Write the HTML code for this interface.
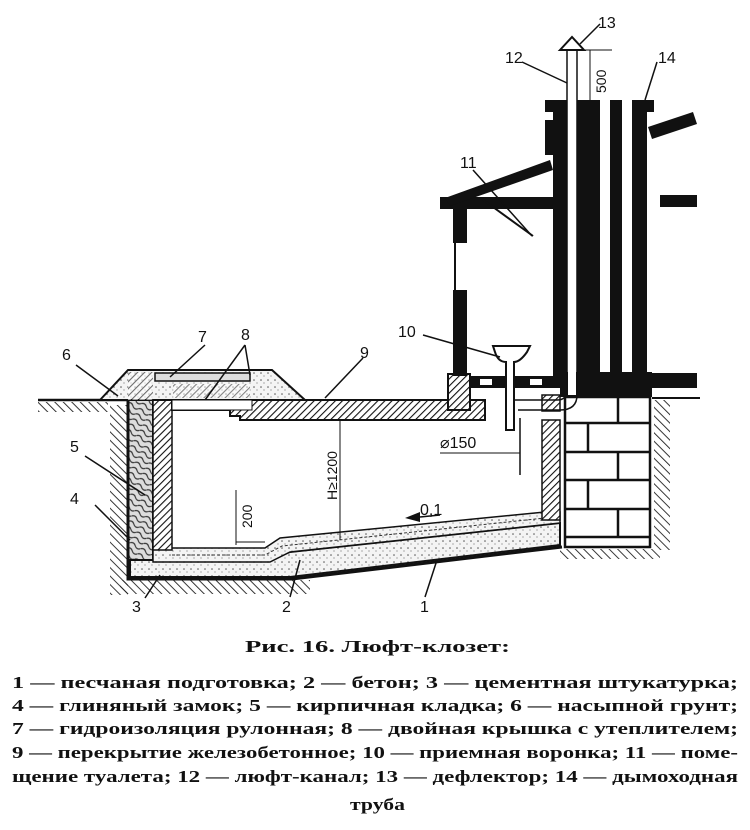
<!DOCTYPE html>
<html><head><meta charset="utf-8"><style>
html,body{margin:0;padding:0;background:#fff;}
svg{display:block;}
text{font-family:"Liberation Sans",sans-serif;fill:#111;}
.cap{font-family:"Liberation Serif","DejaVu Serif",serif;font-weight:bold;font-size:17px;}
</style></head><body>
<svg width="750" height="830" viewBox="0 0 750 830" xmlns="http://www.w3.org/2000/svg">
<defs>
<pattern id="h" width="5" height="5" patternUnits="userSpaceOnUse" patternTransform="rotate(45)">
<rect width="5" height="5" fill="#fff"/><line x1="0" y1="0" x2="0" y2="5" stroke="#111" stroke-width="2.2"/></pattern>
<pattern id="g" width="6" height="6" patternUnits="userSpaceOnUse" patternTransform="rotate(-45)">
<line x1="0" y1="0" x2="0" y2="6" stroke="#222" stroke-width="1.8"/></pattern>
<pattern id="s" width="7" height="7" patternUnits="userSpaceOnUse">
<rect width="7" height="7" fill="#f4f4f4"/><circle cx="2" cy="2" r="0.8" fill="#555"/><circle cx="5" cy="5" r="0.6" fill="#777"/></pattern>
<pattern id="c" width="12" height="12" patternUnits="userSpaceOnUse" patternTransform="rotate(30)">
<rect width="12" height="12" fill="#ddd"/><path d="M0 3 Q3 0 6 3 T12 3 M0 9 Q3 6 6 9 T12 9" stroke="#333" fill="none" stroke-width="1.2"/></pattern>
</defs>

<rect x="110" y="405" width="18" height="190" fill="url(#g)"/>
<rect x="120" y="580" width="190" height="14" fill="url(#g)"/>
<rect x="38" y="402" width="70" height="10" fill="url(#g)"/>
<rect x="654" y="400" width="16" height="150" fill="url(#g)"/>
<rect x="560" y="549" width="100" height="10" fill="url(#g)"/>
<line x1="38" y1="400" x2="128" y2="400" stroke="#111" stroke-width="2.5"/>
<line x1="652" y1="398" x2="700" y2="398" stroke="#111" stroke-width="2"/>

<polygon points="128,400 153,400 153,560 128,560" fill="url(#c)" stroke="#111" stroke-width="2"/>
<polygon points="130,560 270,560 290,552 560,523 560,545 290,577 130,577" fill="url(#s)" stroke="#111" stroke-width="2"/>
<polyline points="128,400 128,579 292,579 562,547" fill="none" stroke="#111" stroke-width="3"/>
<polygon points="153,548 265,548 280,538 545,512 560,512 560,523 290,552 270,562 153,562" fill="url(#s)" stroke="#111" stroke-width="1.5"/>
<polyline points="172,555 265,555 282,546 545,518" fill="none" stroke="#333" stroke-width="1" stroke-dasharray="3,2"/>
<rect x="153" y="400" width="19" height="150" fill="url(#h)" stroke="#111" stroke-width="1.5"/>
<rect x="542" y="420" width="18" height="100" fill="url(#h)" stroke="#111" stroke-width="1.5"/>

<polygon points="100,400 128,370 272,370 305,400" fill="url(#s)" stroke="#111" stroke-width="2"/>
<rect x="128" y="372" width="25" height="28" fill="url(#h)" opacity="0.6"/>
<rect x="155" y="373" width="95" height="8" fill="#ddd" stroke="#111" stroke-width="1.5"/>
<rect x="173" y="384" width="77" height="14" fill="url(#h)" opacity="0.5"/>
<rect x="175" y="401" width="70" height="8" fill="#ddd" stroke="#111" stroke-width="1.5"/>
<polygon points="172,400 485,400 485,420 240,420 240,416 230,416 230,410 172,410" fill="url(#h)" stroke="#111" stroke-width="2"/>
<rect x="172" y="400" width="80" height="10" fill="#fff" stroke="#111" stroke-width="1"/>

<rect x="565" y="397" width="85" height="150" fill="#fff" stroke="#111" stroke-width="2.5"/>
<g stroke="#111" stroke-width="2.5">
<line x1="565" y1="423" x2="650" y2="423"/><line x1="565" y1="452" x2="650" y2="452"/>
<line x1="565" y1="480" x2="650" y2="480"/><line x1="565" y1="509" x2="650" y2="509"/>
<line x1="565" y1="537" x2="650" y2="537"/>
<line x1="618" y1="397" x2="618" y2="423"/><line x1="588" y1="423" x2="588" y2="452"/>
<line x1="618" y1="452" x2="618" y2="480"/><line x1="588" y1="480" x2="588" y2="509"/>
<line x1="618" y1="509" x2="618" y2="537"/>
</g>

<rect x="470" y="376" width="90" height="12" fill="#111"/>
<rect x="480" y="379" width="12" height="6" fill="#fff"/><rect x="530" y="379" width="12" height="6" fill="#fff"/>
<rect x="448" y="374" width="22" height="36" fill="url(#h)" stroke="#111" stroke-width="2"/>
<rect x="542" y="395" width="18" height="16" fill="url(#h)" stroke="#111" stroke-width="1.5"/>
<rect x="453" y="203" width="14" height="40" fill="#111"/>
<rect x="453" y="290" width="14" height="86" fill="#111"/>
<line x1="455" y1="243" x2="455" y2="290" stroke="#111" stroke-width="2"/>
<rect x="440" y="197" width="120" height="12" fill="#111"/>
<polygon points="445,198 550,160 553,170 450,206" fill="#111"/>
<line x1="482" y1="199" x2="533" y2="236" stroke="#111" stroke-width="2"/>
<rect x="545" y="100" width="22" height="12" fill="#111"/>
<rect x="553" y="112" width="14" height="276" fill="#111"/>
<rect x="545" y="120" width="8" height="35" fill="#111"/>
<rect x="577" y="100" width="23" height="288" fill="#111"/>
<rect x="610" y="100" width="12" height="288" fill="#111"/>
<rect x="632" y="100" width="22" height="12" fill="#111"/>
<rect x="632" y="112" width="15" height="276" fill="#111"/>
<rect x="560" y="372" width="92" height="25" fill="#111"/>
<rect x="652" y="373" width="45" height="15" fill="#111"/>
<rect x="660" y="195" width="37" height="12" fill="#111"/>
<polygon points="648,127 693,112 697,124 652,139" fill="#111"/>
<path d="M567,50 L567,390 Q567,400 557,400 L515,400" fill="none" stroke="#111" stroke-width="1.5"/>
<path d="M577,50 L577,395 Q577,410 560,410 L518,410" fill="none" stroke="#111" stroke-width="1.5"/>
<rect x="568" y="50" width="8" height="345" fill="#fff"/>
<polygon points="560,50 572,37 584,50" fill="#fff" stroke="#111" stroke-width="2"/>
<path d="M493,346 L530,346 L527,352 Q520,362 514,362 L514,430 L506,430 L506,362 Q498,362 495,352 Z" fill="#fff" stroke="#111" stroke-width="2"/>
<line x1="520" y1="418" x2="520" y2="475" stroke="#111" stroke-width="1.5"/>

<line x1="340" y1="420" x2="340" y2="540" stroke="#111" stroke-width="1"/>
<line x1="236" y1="490" x2="236" y2="545" stroke="#111" stroke-width="1"/>
<line x1="236" y1="542" x2="265" y2="542" stroke="#111" stroke-width="1"/>
<line x1="440" y1="453" x2="520" y2="453" stroke="#111" stroke-width="1"/>
<line x1="590" y1="50" x2="590" y2="100" stroke="#111" stroke-width="1"/>
<line x1="577" y1="50" x2="612" y2="50" stroke="#111" stroke-width="1"/>
<polygon points="405,518 420,512 420,522" fill="#111"/>
<line x1="420" y1="517" x2="440" y2="515" stroke="#111" stroke-width="1.5"/>

<g stroke="#111" stroke-width="1.5" fill="none">
<line x1="76" y1="365" x2="118" y2="396"/>
<line x1="205" y1="345" x2="170" y2="377"/>
<line x1="245" y1="345" x2="205" y2="400"/><line x1="245" y1="345" x2="250" y2="375"/>
<line x1="363" y1="358" x2="325" y2="398"/>
<line x1="85" y1="456" x2="145" y2="495"/>
<line x1="95" y1="505" x2="130" y2="540"/>
<line x1="145" y1="598" x2="160" y2="575"/>
<line x1="290" y1="597" x2="300" y2="560"/>
<line x1="425" y1="597" x2="437" y2="560"/>
<line x1="423" y1="335" x2="500" y2="357"/>
<line x1="473" y1="170" x2="532" y2="236"/>
<line x1="522" y1="62" x2="567" y2="83"/>
<line x1="600" y1="24" x2="580" y2="44"/>
<line x1="657" y1="62" x2="645" y2="100"/>
</g>

<g font-size="16">
<text x="598" y="28">13</text>
<text x="505" y="63">12</text>
<text x="658" y="63">14</text>
<text x="460" y="168">11</text>
<text x="398" y="337">10</text>
<text x="62" y="360">6</text>
<text x="198" y="342">7</text>
<text x="241" y="340">8</text>
<text x="360" y="358">9</text>
<text x="70" y="452">5</text>
<text x="70" y="504">4</text>
<text x="132" y="612">3</text>
<text x="282" y="612">2</text>
<text x="420" y="612">1</text>
<text x="440" y="448">⌀150</text>
<text x="420" y="515">0,1</text>
<text transform="translate(606,93) rotate(-90)" font-size="14">500</text>
<text transform="translate(252,528) rotate(-90)" font-size="14">200</text>
<text transform="translate(337,500) rotate(-90)" font-size="14">H≥1200</text>
</g>

<text class="cap" x="245" y="652" font-size="19" textLength="265" lengthAdjust="spacingAndGlyphs">Рис. 16. Люфт-клозет:</text>
<text class="cap" x="12" y="688" textLength="726" lengthAdjust="spacingAndGlyphs">1 — песчаная подготовка; 2 — бетон; 3 — цементная штукатурка;</text>
<text class="cap" x="12" y="711" textLength="726" lengthAdjust="spacingAndGlyphs">4 — глиняный замок; 5 — кирпичная кладка; 6 — насыпной грунт;</text>
<text class="cap" x="12" y="734" textLength="726" lengthAdjust="spacingAndGlyphs">7 — гидроизоляция рулонная; 8 — двойная крышка с утеплителем;</text>
<text class="cap" x="12" y="758" textLength="726" lengthAdjust="spacingAndGlyphs">9 — перекрытие железобетонное; 10 — приемная воронка; 11 — поме-</text>
<text class="cap" x="12" y="782" textLength="726" lengthAdjust="spacingAndGlyphs">щение туалета; 12 — люфт-канал; 13 — дефлектор; 14 — дымоходная</text>
<text class="cap" x="350" y="810" textLength="55" lengthAdjust="spacingAndGlyphs">труба</text>
</svg>
</body></html>
